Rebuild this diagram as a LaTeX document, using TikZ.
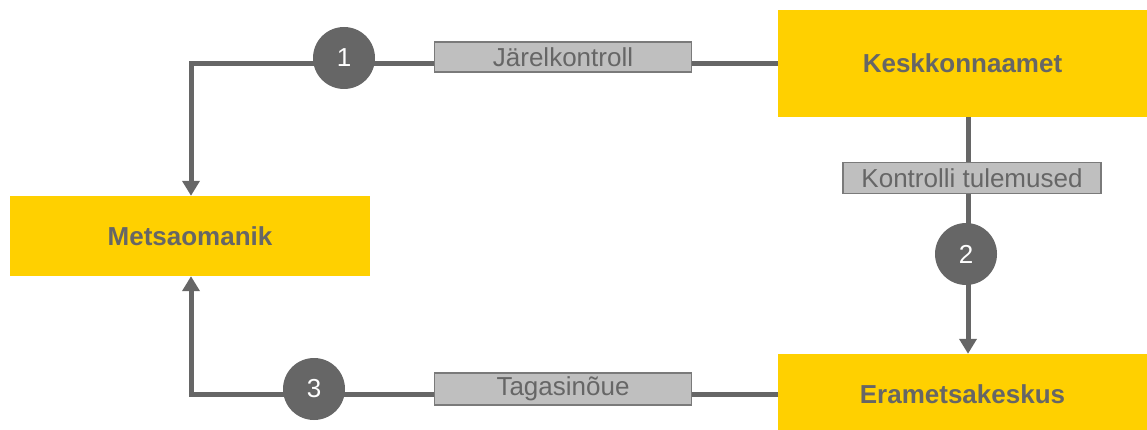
\documentclass[tikz,border=0pt]{standalone}
\usepackage{fontspec}
\setmainfont{Liberation Sans}
\usetikzlibrary{arrows.meta}
\definecolor{ylw}{HTML}{FFD000}
\definecolor{dgray}{HTML}{666666}
\definecolor{lgray}{HTML}{BFBFBF}
\definecolor{bgray}{HTML}{7A7A7A}
\tikzset{
  mainbox/.style={fill=ylw, draw=none, inner sep=0pt, font=\bfseries\fontsize{26}{30}\selectfont, text=dgray},
  numcirc/.style={circle, fill=dgray, draw=none, minimum size=62pt, inner sep=0pt, text=white, font=\fontsize{26}{30}\selectfont},
  lbl/.style={fill=lgray, draw=bgray, line width=1.5pt, inner sep=0pt, text=dgray, font=\fontsize{26}{30}\selectfont},
  conn/.style={draw=dgray, line width=5pt},
  arr/.style={conn, -{Triangle[width=17pt,length=15pt]}}
}
\begin{document}
\begin{tikzpicture}[x=1pt,y=-1pt]
\useasboundingbox (0,0) rectangle (1147,430);
\node[mainbox, minimum width=369pt, minimum height=107pt] (kk) at (962.5,63.5) {Keskkonnaamet};
\node[mainbox, minimum width=360pt, minimum height=80pt] (mo) at (190,236) {Metsaomanik};
\node[mainbox, minimum width=369pt, minimum height=80pt] (em) at (962.5,394) {Erametsakeskus};
\coordinate (lx) at (191,0);
\coordinate (vx) at (968,0);
% connectors
\draw[arr] (kk.west) -| (lx |- mo.north);
\draw[arr] (vx |- kk.south) -- (vx |- em.north);
\draw[arr] (em.west) -| (lx |- mo.south);
% labels
\node[lbl, minimum width=257pt, minimum height=30pt] (l1) at (563,57) {Järelkontroll};
\node[lbl, minimum width=258pt, minimum height=31pt] (l2) at (972,178) {Kontrolli tulemused};
\node[lbl, minimum width=257pt, minimum height=32pt] (l3) at (563,389) {Tagasinõue};
\node[numcirc] (c1) at (344,58) {1};
\node[numcirc] (c2) at (966,254) {2};
\node[numcirc] (c3) at (314,389) {3};
\end{tikzpicture}
\end{document}
